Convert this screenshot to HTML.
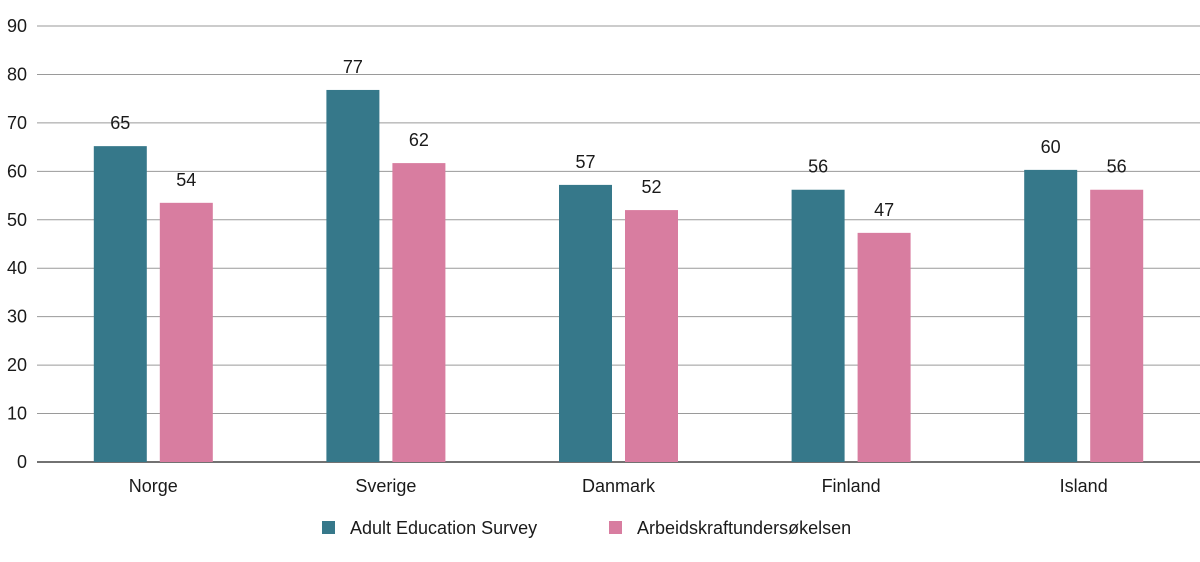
<!DOCTYPE html>
<html><head><meta charset="utf-8"><style>
body{margin:0;background:#fff;}
svg text{font-family:"Liberation Sans",sans-serif;fill:#1a1a1a;}
</style></head><body>
<svg id="chart" width="1200" height="557" xmlns="http://www.w3.org/2000/svg">
<g id="grid"></g>
<g id="yax"></g>
<g id="bars"></g>
<g id="xax"></g>
<g>
<rect x="322" y="521" width="13" height="13" fill="#36788a"/>
<text x="350" y="534" font-size="18">Adult Education Survey</text>
<rect x="609" y="521" width="13" height="13" fill="#d87da0"/>
<text x="637" y="534" font-size="18">Arbeidskraftundersøkelsen</text>
</g>
</svg>
<script>
const categories=["Norge","Sverige","Danmark","Finland","Island"];
const aesValues=[65.2,76.8,57.2,56.2,60.3];
const akuValues=[53.5,61.7,52,47.3,56.2];
const aesLabels=["65","77","57","56","60"];
const akuLabels=["54","62","52","47","56"];
const yTicks=[0,10,20,30,40,50,60,70,80,90];
const NS="http://www.w3.org/2000/svg";
const x0=37,x1=1200,yBase=462,yTop=26,yMax=90;
const y=v=>yBase-(v/yMax)*(yBase-yTop);
const band=(x1-x0)/categories.length;
const cx=i=>x0+band*(i+0.5);
function mk(t,a,p){const e=document.createElementNS(NS,t);for(const k in a)e.setAttribute(k,a[k]);p.appendChild(e);return e;}
const grid=document.getElementById('grid'),yax=document.getElementById('yax'),bars=document.getElementById('bars'),xax=document.getElementById('xax');
yTicks.forEach(t=>{
 const l=mk('line',{x1:x0,x2:x1,y1:y(t),y2:y(t),stroke:t===0?'#444':'#9a9a9a','stroke-width':t===0?1.5:1},grid);
 
 
 const tx=mk('text',{x:27,y:y(t)+6,'text-anchor':'end','font-size':18},yax);
 tx.textContent=t;
 
 
});
const bw=53;
categories.forEach((c,i)=>{
 [[aesValues,aesLabels,'#36788a',-bw-6.5,'aes'],[akuValues,akuLabels,'#d87da0',6.5,'aku']].forEach(([vals,labs,col,off,nm])=>{
  const bx=cx(i)+off;
  const r=mk('rect',{x:bx,y:y(vals[i]),width:bw,height:yBase-y(vals[i]),fill:col},bars);
  
  
  const t=mk('text',{x:bx+bw/2,y:y(vals[i])-17,'text-anchor':'middle','font-size':18},bars);
  t.textContent=labs[i];
  
  
 });
 const t=mk('text',{x:cx(i),y:492,'text-anchor':'middle','font-size':18},xax);
 t.textContent=c;
 
 
});
</script>
</body></html>
